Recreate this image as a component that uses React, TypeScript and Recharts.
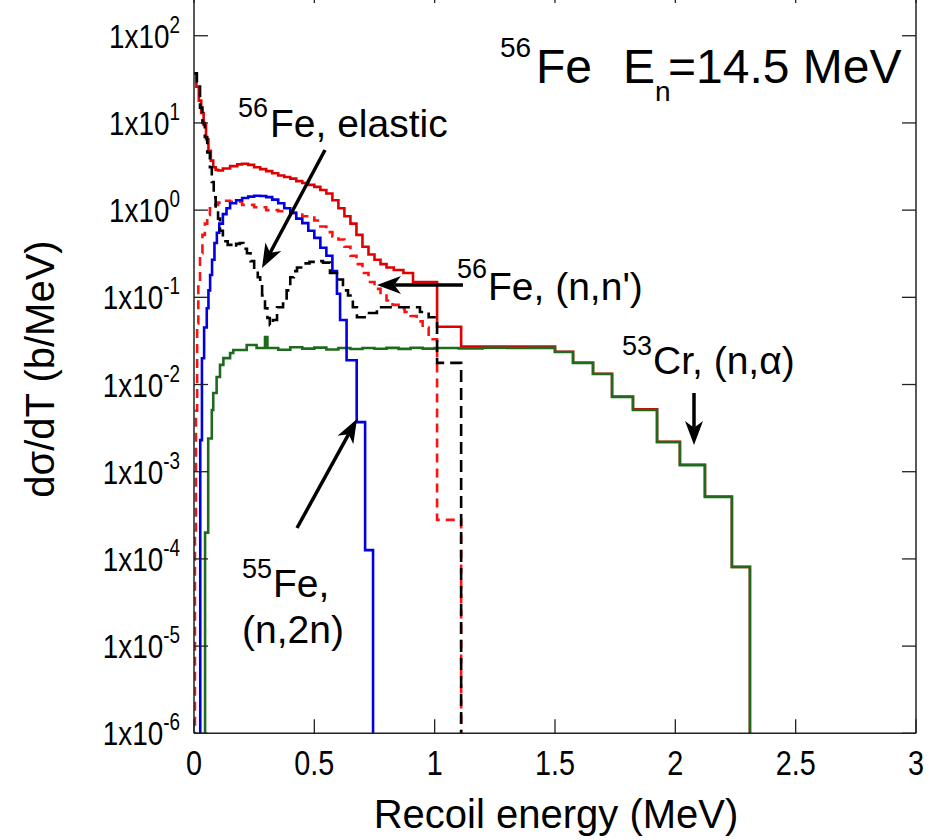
import React from 'react';
import { LineChart, Line, XAxis, YAxis, ReferenceLine } from 'recharts';

// ---------- data (energy in MeV, dσ/dT in b/MeV) ----------
const energyTicks = [0, 0.5, 1, 1.5, 2, 2.5, 3];
const decadeTicks = [1e-6, 1e-5, 1e-4, 1e-3, 1e-2, 1e-1, 1, 10, 100];

const BELOW = 1e-9; // value under the plotted range (drop to axis)

// total (red solid)
const totalE = [0, 0.01, 0.02, 0.03, 0.04, 0.05, 0.06, 0.07, 0.08, 0.09, 0.1, 0.12, 0.15, 0.18, 0.2, 0.225, 0.25, 0.275, 0.3, 0.325, 0.35, 0.375, 0.4, 0.425, 0.45, 0.475, 0.5, 0.525, 0.55, 0.575, 0.6, 0.625, 0.65, 0.675, 0.7, 0.725, 0.75, 0.775, 0.8, 0.83, 0.87, 0.91, 1.01, 1.11, 1.5, 1.575, 1.658, 1.737, 1.824, 1.924, 2.019, 2.123, 2.235, 2.31];
const totalV = [37, 26, 18, 13, 9.5, 6.5, 4.8, 3.7, 3.1, 2.9, 2.85, 3.0, 3.2, 3.35, 3.4, 3.3, 3.1, 2.95, 2.8, 2.65, 2.5, 2.4, 2.3, 2.15, 2.05, 1.95, 1.85, 1.7, 1.55, 1.3, 1.05, 0.85, 0.7, 0.52, 0.38, 0.31, 0.27, 0.24, 0.22, 0.206, 0.19, 0.15, 0.046, 0.0272, 0.0238, 0.0178, 0.0133, 0.0073, 0.0052, 0.0022, 0.0012, 0.00052, 0.000081, BELOW];

// 56Fe elastic (black dashed)
const elasticE = [0, 0.012, 0.025, 0.035, 0.045, 0.055, 0.066, 0.074, 0.082, 0.09, 0.1, 0.108, 0.12, 0.14, 0.162, 0.175, 0.19, 0.205, 0.22, 0.235, 0.25, 0.265, 0.275, 0.283, 0.295, 0.305, 0.315, 0.328, 0.345, 0.37, 0.385, 0.4, 0.415, 0.428, 0.453, 0.48, 0.511, 0.536, 0.565, 0.594, 0.619, 0.64, 0.66, 0.677, 0.719, 0.76, 0.885, 0.939, 0.975, 1.01, 1.11];
const elasticV = [37, 28, 15, 10, 6.9, 4.6, 3.1, 2.1, 1.4, 1.05, 0.8, 0.58, 0.44, 0.4, 0.377, 0.41, 0.42, 0.36, 0.32, 0.26, 0.21, 0.17, 0.14, 0.105, 0.075, 0.058, 0.048, 0.055, 0.077, 0.085, 0.12, 0.17, 0.2, 0.22, 0.245, 0.255, 0.26, 0.25, 0.19, 0.16, 0.12, 0.105, 0.077, 0.059, 0.066, 0.077, 0.077, 0.068, 0.059, 0.0177, BELOW];

// 56Fe (n,n') (red dashed)
const inelasticE = [0, 0.004, 0.008, 0.013, 0.018, 0.025, 0.035, 0.045, 0.055, 0.066, 0.08, 0.1, 0.12, 0.15, 0.2, 0.25, 0.3, 0.35, 0.4, 0.45, 0.5, 0.525, 0.55, 0.575, 0.6, 0.625, 0.65, 0.675, 0.7, 0.725, 0.75, 0.775, 0.8, 0.825, 0.85, 0.875, 0.9, 0.925, 0.95, 0.975, 1.01, 1.11];
const inelasticV = [BELOW, 0.0002, 0.005, 0.05, 0.15, 0.32, 0.52, 0.7, 0.88, 1.05, 1.15, 1.22, 1.28, 1.25, 1.15, 1.08, 1.0, 0.97, 0.93, 0.85, 0.76, 0.65, 0.56, 0.5, 0.46, 0.38, 0.3, 0.24, 0.19, 0.15, 0.125, 0.105, 0.092, 0.082, 0.075, 0.068, 0.061, 0.053, 0.045, 0.033, 0.00028, BELOW];

// 55Fe (n,2n) (blue)
const n2nE = [0, 0.026, 0.033, 0.042, 0.053, 0.06, 0.067, 0.075, 0.085, 0.095, 0.105, 0.12, 0.135, 0.15, 0.175, 0.2, 0.225, 0.25, 0.275, 0.3, 0.325, 0.35, 0.375, 0.4, 0.425, 0.45, 0.475, 0.5, 0.525, 0.55, 0.575, 0.594, 0.607, 0.634, 0.676, 0.711, 0.744];
const n2nV = [BELOW, 0.0023, 0.02, 0.045, 0.075, 0.12, 0.18, 0.27, 0.42, 0.55, 0.7, 0.9, 1.05, 1.2, 1.3, 1.38, 1.43, 1.46, 1.45, 1.41, 1.32, 1.2, 1.05, 0.93, 0.8, 0.71, 0.58, 0.48, 0.37, 0.3, 0.2, 0.11, 0.055, 0.019, 0.0037, 0.000126, BELOW];

// 53Cr (n,alpha) (green)
const alphaE = [0, 0.046, 0.059, 0.074, 0.08, 0.094, 0.108, 0.122, 0.15, 0.163, 0.219, 0.26, 0.295, 0.305, 0.35, 0.4, 0.45, 0.5, 0.55, 0.6, 0.65, 0.7, 0.75, 0.8, 0.85, 0.9, 0.95, 1.0, 1.1, 1.2, 1.3, 1.4, 1.5, 1.575, 1.658, 1.737, 1.824, 1.924, 2.019, 2.123, 2.235, 2.31];
const alphaV = [BELOW, 0.0002, 0.0024, 0.0051, 0.008, 0.0122, 0.0168, 0.0201, 0.023, 0.0249, 0.0284, 0.0262, 0.0351, 0.0262, 0.025, 0.0268, 0.0258, 0.0265, 0.0252, 0.0262, 0.0255, 0.0262, 0.0257, 0.0263, 0.0256, 0.0264, 0.0258, 0.0262, 0.026, 0.0264, 0.0262, 0.0263, 0.0236, 0.0177, 0.0132, 0.0072, 0.00511, 0.00219, 0.00119, 0.000513, 0.0000807, BELOW];

const zip = (e: number[], v: number[]) => e.map((x, i) => ({ e: x, v: v[i] }));

// ---------- layout ----------
const W = 938;
const H = 851;
const LEFT = 194;
const RIGHT_MARGIN = 22;
const X_AXIS_H = 106.7;
const PLOT_LEFT = LEFT;
const PLOT_RIGHT = W - RIGHT_MARGIN;
const PLOT_TOP = 0;
const PLOT_BOTTOM = H - X_AXIS_H;
const Y_TOP = Math.pow(10, 2.536);
const TICK = 14;
const FONT = '"Liberation Sans", Arial, Helvetica, sans-serif';

const XTick = (props: any) => {
  const { x, payload } = props;
  return (
    <g>
      <line x1={x} x2={x} y1={PLOT_BOTTOM} y2={PLOT_BOTTOM - TICK} stroke="#222" strokeWidth={1.3} />
      <line x1={x} x2={x} y1={PLOT_TOP} y2={PLOT_TOP + TICK} stroke="#222" strokeWidth={1.3} />
      <text
        transform={`translate(${x},${PLOT_BOTTOM + 42}) scale(0.8,1)`}
        x={0}
        y={0}
        textAnchor="middle"
        fontSize={36}
        fontFamily={FONT}
        fill="#000"
      >
        {String(payload.value)}
      </text>
    </g>
  );
};

const YTick = (props: any) => {
  const { y, payload } = props;
  const exp = Math.round(Math.log10(payload.value));
  return (
    <g>
      <line x1={PLOT_LEFT} x2={PLOT_LEFT + TICK} y1={y} y2={y} stroke="#222" strokeWidth={1.3} />
      <line x1={PLOT_RIGHT - TICK} x2={PLOT_RIGHT} y1={y} y2={y} stroke="#222" strokeWidth={1.3} />
      <text
        transform={`translate(180,${y + 12}) scale(0.82,1)`}
        x={0}
        y={0}
        textAnchor="end"
        fontSize={34}
        fontFamily={FONT}
        fill="#000"
      >
        1x10<tspan dy={-15} fontSize={23}>{String(exp)}</tspan>
      </text>
    </g>
  );
};

const Arrow = ({ x1, y1, x2, y2 }: { x1: number; y1: number; x2: number; y2: number }) => {
  const dx = x2 - x1;
  const dy = y2 - y1;
  const len = Math.sqrt(dx * dx + dy * dy);
  const ux = dx / len;
  const uy = dy / len;
  const hl = 24;
  const hw = 9;
  const bx = x2 - ux * hl;
  const by = y2 - uy * hl;
  const nx = x2 - ux * hl * 0.72;
  const ny = y2 - uy * hl * 0.72;
  const pts = [
    [x2, y2],
    [bx - uy * hw, by + ux * hw],
    [nx, ny],
    [bx + uy * hw, by - ux * hw],
  ]
    .map((p) => p.join(','))
    .join(' ');
  return (
    <g>
      <line x1={x1} y1={y1} x2={nx} y2={ny} stroke="#000" strokeWidth={3.5} />
      <polygon points={pts} fill="#000" />
    </g>
  );
};

const Overlay = () => (
  <svg
    width={W}
    height={840}
    style={{ position: 'absolute', left: 0, top: 0, pointerEvents: 'none' }}
    fontFamily={FONT}
  >
    {/* title */}
    <text x={500} y={57} fontSize={28}>56</text>
    <text x={536} y={83} fontSize={48}>Fe</text>
    <text x={623} y={83} fontSize={48}>E</text>
    <text x={655} y={101} fontSize={28}>n</text>
    <text x={668} y={83} fontSize={48}>=14.5 MeV</text>

    {/* elastic */}
    <text x={238} y={117} fontSize={27}>56</text>
    <text x={270} y={137} fontSize={39}>Fe, elastic</text>
    <Arrow x1={325} y1={150} x2={262} y2={268} />

    {/* (n,n') */}
    <text x={457} y={278} fontSize={27}>56</text>
    <text x={488} y={300} fontSize={39}>Fe, (n,n')</text>
    <Arrow x1={463} y1={285} x2={377} y2={285} />

    {/* (n,alpha) */}
    <text x={622} y={355} fontSize={27}>53</text>
    <text x={653} y={374} fontSize={39}>Cr, (n,α)</text>
    <Arrow x1={694} y1={393} x2={694} y2={445} />

    {/* (n,2n) */}
    <text x={242} y={578} fontSize={27}>55</text>
    <text x={273} y={597} fontSize={39}>Fe,</text>
    <text x={242} y={643} fontSize={39}>(n,2n)</text>
    <Arrow x1={297} y1={528} x2={357} y2={419} />

    {/* axis titles */}
    <text x={556} y={828} fontSize={40} textAnchor="middle">Recoil energy (MeV)</text>
    <text
      x={0}
      y={0}
      fontSize={40}
      textAnchor="middle"
      transform="translate(54,369) rotate(-90)"
    >
      dσ/dT (b/MeV)
    </text>
  </svg>
);

export default function App() {
  return (
    <div style={{ position: 'absolute', left: 0, top: 0, width: W, height: 840, overflow: 'hidden', background: '#fff' }}>
      <div style={{ position: 'absolute', left: 0, top: -11 }}>
        <LineChart width={W} height={H} margin={{ top: 0, right: RIGHT_MARGIN, bottom: 0, left: 0 }}>
          <XAxis
            dataKey="e"
            type="number"
            domain={[0, 3]}
            ticks={energyTicks}
            allowDataOverflow
            height={X_AXIS_H}
            tickLine={false}
            tick={<XTick />}
            axisLine={{ stroke: '#222', strokeWidth: 1.5 }}
            interval={0}
          />
          <YAxis
            type="number"
            scale="log"
            domain={[1e-6, Y_TOP]}
            ticks={decadeTicks}
            allowDataOverflow
            width={LEFT}
            tickLine={false}
            tick={<YTick />}
            axisLine={{ stroke: '#222', strokeWidth: 1.5 }}
            interval={0}
          />
          <ReferenceLine x={3} stroke="#222" strokeWidth={1.5} />
          <ReferenceLine y={Y_TOP} stroke="#222" strokeWidth={1.5} />
          <Line data={zip(totalE, totalV)} dataKey="v" type="stepAfter" stroke="#e00000" strokeWidth={2.6} dot={false} isAnimationActive={false} />
          <Line data={zip(inelasticE, inelasticV)} dataKey="v" type="stepAfter" stroke="#ff1010" strokeWidth={2.6} strokeDasharray="9 6" dot={false} isAnimationActive={false} />
          <Line data={zip(alphaE, alphaV)} dataKey="v" type="stepAfter" stroke="#1e6b1e" strokeWidth={2.6} dot={false} isAnimationActive={false} />
          <Line data={zip(n2nE, n2nV)} dataKey="v" type="stepAfter" stroke="#0000e0" strokeWidth={2.6} dot={false} isAnimationActive={false} />
          <Line data={zip(elasticE, elasticV)} dataKey="v" type="stepAfter" stroke="#000000" strokeWidth={2.6} strokeDasharray="12 6" dot={false} isAnimationActive={false} />
        </LineChart>
      </div>
      <Overlay />
    </div>
  );
}
